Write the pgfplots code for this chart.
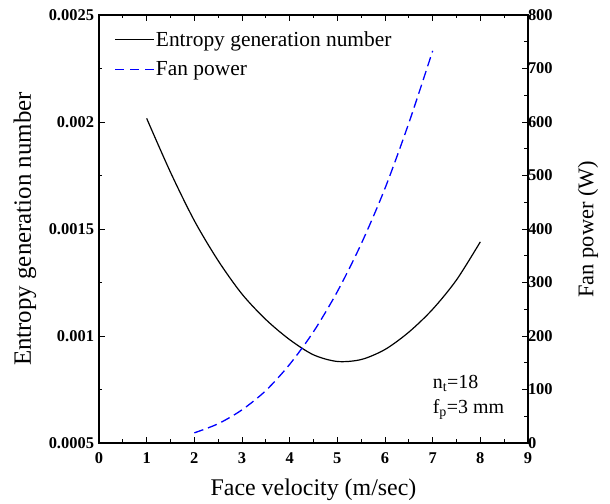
\documentclass[border=0pt]{standalone}
\usepackage{pgfplots}
\pgfplotsset{compat=1.18}
\usepackage{fontspec}
\setmainfont{Liberation Serif}
\begin{document}
\begin{tikzpicture}
\pgfplotsset{
  common/.style={
    scale only axis, width=429bp, height=428bp,
    xmin=0, xmax=9,
    tick align=inside,
    major tick length=6bp, minor tick length=3.5bp,
    axis line style={line width=1.1bp},
    every tick/.style={line width=0.7bp, black},
    /pgf/number format/assume math mode=true,
    ticklabel style={font=\fontsize{16.5}{18}\selectfont\bfseries},
  }
}
\begin{axis}[common, name=main,
  ymin=0.0005, ymax=0.0025,
  xtick={0,1,...,9}, minor x tick num=1,
  xtick pos=both, ytick pos=left,
  ytick={0.0005,0.001,0.0015,0.002,0.0025},
  yticklabels={0.0005,0.001,0.0015,0.002,0.0025},
  minor y tick num=1,
  scaled y ticks=false,
  xticklabel style={yshift=-6bp},
  yticklabel style={xshift=-1.5bp},
  xlabel={Face velocity (m/sec)},
  ylabel={Entropy generation number},
  xlabel style={font=\fontsize{24}{28}\selectfont, at={(axis description cs:0.5,-0.11)}, anchor=center},
  ylabel style={font=\fontsize{25}{28}\selectfont, at={(axis description cs:-0.1725,0.5)}, anchor=center},
  legend image code/.code={\draw[#1] (0bp,0bp) -- (39bp,0bp);},
  legend style={draw=none, fill=none, at={(axis description cs:0.036,0.965)}, anchor=north west,
    font=\fontsize{21.5}{24}\selectfont, row sep=12bp, inner sep=0pt,
    nodes={inner xsep=1bp, inner ysep=1bp}, cells={anchor=west}},
]
\addplot[black, line width=1.2bp, smooth] coordinates {
(1.0,0.002017) (1.5,0.001765) (2.0,0.001539) (2.5,0.001352) (3.0,0.001196)
(3.5,0.001077) (4.0,0.000983) (4.5,0.000912) (5.0,0.000881) (5.5,0.000890)
(6.0,0.000937) (6.5,0.001018) (7.0,0.001125) (7.5,0.001262) (8.0,0.001440)
};
\addlegendentry{Entropy generation number}
\addlegendimage{blue, line width=1.3bp, dash pattern=on 9bp off 6bp}
\addlegendentry{Fan power}
\node[anchor=west, font=\fontsize{20}{24}\selectfont, inner sep=0pt] at (axis cs:7.0,0.00078) {n\textsubscript{t}=18};
\node[anchor=west, font=\fontsize{20}{24}\selectfont, inner sep=0pt] at (axis cs:7.0,0.000655) {f\textsubscript{p}=3 mm};
\end{axis}
\begin{axis}[common,
  ymin=0, ymax=800,
  axis x line=none, axis y line*=right,
  ytick={0,100,...,800}, minor y tick num=1,
  yticklabel style={xshift=-3.5bp},
  ylabel={Fan power (W)},
  ylabel style={font=\fontsize{22.5}{26}\selectfont, at={(axis description cs:1.14,0.5)}, anchor=center, rotate=0},
]
\addplot[blue, line width=1.3bp, dash pattern=on 9.5bp off 5bp, smooth] coordinates {
(2.0,19) (2.5,36) (3.0,62) (3.5,98) (4.0,147) (4.5,208) (5.0,283)
(5.5,372) (6.0,476) (6.5,598) (7.0,733)
};
\end{axis}
\pgfresetboundingbox
\path (main.south west) ++(-99bp,-61bp) rectangle ++(610bp,504bp);
\end{tikzpicture}
\end{document}
